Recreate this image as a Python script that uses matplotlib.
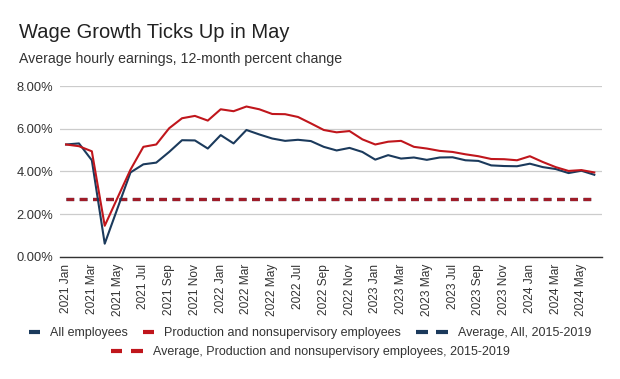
import matplotlib
matplotlib.use("Agg")
import matplotlib.pyplot as plt
from matplotlib.lines import Line2D
from matplotlib.legend_handler import HandlerBase
from matplotlib.ticker import FuncFormatter, MultipleLocator
import pandas as pd

plt.rcParams['font.family'] = ['Liberation Sans', 'DejaVu Sans']

months = pd.date_range('2021-01-01', periods=42, freq='MS')
month_labels = [d.strftime('%Y %b') for d in months]

all_employees = [5.26, 5.31, 4.52, 0.61, 2.28, 3.95, 4.33, 4.41, 4.91, 5.46, 5.45, 5.07,
                 5.70, 5.31, 5.94, 5.73, 5.54, 5.43, 5.48, 5.42, 5.15, 4.98, 5.10, 4.91,
                 4.55, 4.76, 4.60, 4.65, 4.54, 4.65, 4.66, 4.52, 4.49, 4.28, 4.25, 4.24,
                 4.36, 4.20, 4.11, 3.92, 4.03, 3.84]
production = [5.26, 5.18, 4.94, 1.45, 2.77, 4.08, 5.15, 5.26, 6.02, 6.49, 6.60, 6.38,
              6.91, 6.82, 7.04, 6.91, 6.69, 6.68, 6.55, 6.25, 5.94, 5.83, 5.89, 5.50,
              5.26, 5.39, 5.43, 5.15, 5.07, 4.96, 4.91, 4.80, 4.71, 4.58, 4.57, 4.52,
              4.71, 4.44, 4.20, 4.02, 4.06, 3.95]
avg_all_2015_2019 = 2.69
avg_prod_2015_2019 = 2.70

BLUE = '#1b3a5c'
RED = '#c0161c'
DRED = '#a01c28'


class HandleKey(HandlerBase):
    """Legend key with its own width (points): one bar or two dashes."""
    def __init__(self, width_pt, dashed):
        super().__init__()
        self.width_pt = width_pt
        self.dashed = dashed

    def legend_artist(self, legend, orig_handle, fontsize, handlebox):
        handlebox.width = self.width_pt
        return super().legend_artist(legend, orig_handle, fontsize, handlebox)

    def create_artists(self, legend, orig_handle, xdescent, ydescent, width, height,
                       fontsize, trans):
        y = height / 2 - ydescent
        col = orig_handle.get_color()
        if self.dashed:
            seg = width * 0.37
            a = Line2D([-xdescent, -xdescent + seg], [y, y], color=col, lw=3,
                       solid_capstyle='butt', transform=trans)
            b = Line2D([-xdescent + width - seg, -xdescent + width], [y, y], color=col,
                       lw=3, solid_capstyle='butt', transform=trans)
            return [a, b]
        a = Line2D([-xdescent, -xdescent + width], [y, y], color=col, lw=3,
                   solid_capstyle='butt', transform=trans)
        return [a]


fig = plt.figure(figsize=(6.2, 3.79), dpi=100)
ax = fig.add_axes([0.0968, 0.3227, 0.8742, 0.4503])

x = list(range(len(months)))
ax.plot(x, all_employees, color=BLUE, lw=1.5, zorder=3, solid_joinstyle='round')
ax.plot(x, production, color=RED, lw=1.5, zorder=4, solid_joinstyle='round')
ax.plot(x, [avg_all_2015_2019] * len(x), color=BLUE, lw=2.3,
        linestyle=(0, (2.4, 1.75)), zorder=2)
ax.plot(x, [avg_prod_2015_2019] * len(x), color=DRED, lw=2.3,
        linestyle=(0, (2.4, 1.75)), zorder=2.5)

ax.set_xlim(-0.47, 41.6)
ax.set_ylim(0, 8)
ax.yaxis.set_major_locator(MultipleLocator(2))
ax.yaxis.set_major_formatter(FuncFormatter(lambda v, p: f'{v:.2f}%'))
ax.set_xticks(x[::2])
ax.set_xticklabels(month_labels[::2], rotation=90, fontsize=8.6, color='#333333')
ax.tick_params(axis='y', labelsize=9.3, labelcolor='#333333', length=0, pad=5)
ax.tick_params(axis='x', length=0, pad=5)
ax.grid(axis='y', color='#cccccc', lw=0.9)
ax.set_axisbelow(True)
for s in ['top', 'right', 'left']:
    ax.spines[s].set_visible(False)
ax.spines['bottom'].set_color('#333333')
ax.spines['bottom'].set_linewidth(1.0)

fig.text(0.031, 0.9, 'Wage Growth Ticks Up in May', fontsize=14.5, color='#222222', va='baseline')
fig.text(0.031, 0.834, 'Average hourly earnings, 12-month percent change', fontsize=10.2,
         color='#333333', va='baseline')

h1 = Line2D([], [], color=BLUE)
h2 = Line2D([], [], color=RED)
h3 = Line2D([], [], color=BLUE)
h4 = Line2D([], [], color=RED)
solid_key = 8.0
dash_key = 23.0
leg1 = fig.legend([h1, h2, h3],
                  ['All employees', 'Production and nonsupervisory employees',
                   'Average, All, 2015-2019'],
                  handler_map={h1: HandleKey(solid_key, False), h2: HandleKey(solid_key, False),
                               h3: HandleKey(dash_key, True)},
                  loc='center', bbox_to_anchor=(0.5, 0.121), ncol=3, frameon=False,
                  fontsize=9, handletextpad=0.8, columnspacing=1.2,
                  labelcolor='#333333')
leg2 = fig.legend([h4], ['Average, Production and nonsupervisory employees, 2015-2019'],
                  handler_map={h4: HandleKey(dash_key, True)},
                  loc='center', bbox_to_anchor=(0.5, 0.071), frameon=False,
                  fontsize=9, handletextpad=0.8, labelcolor='#333333')

fig.savefig('out.png', dpi=100)
